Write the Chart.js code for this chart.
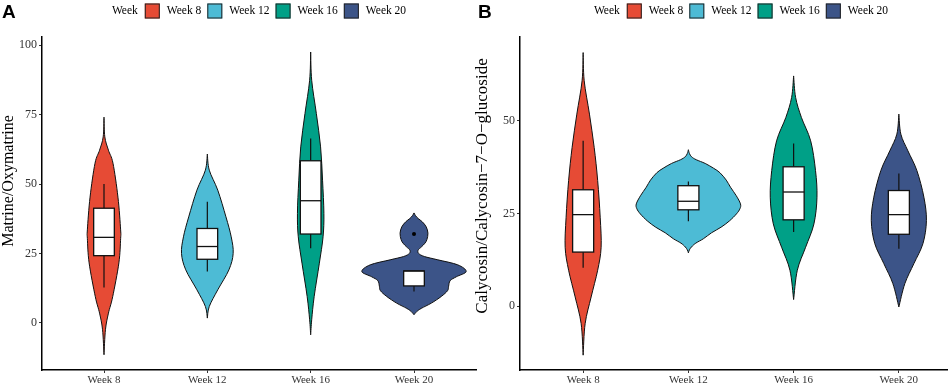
<!DOCTYPE html>
<html>
<head>
<meta charset="utf-8">
<script src="https://cdn.jsdelivr.net/npm/chart.js@4.4.1/dist/chart.umd.min.js"></script>
<style>
  html, body { margin: 0; padding: 0; background: #fff; }
  #wrap { position: relative; width: 948px; height: 386px; overflow: hidden; }
  #boxA { position: absolute; left: 0; top: 0; width: 480px; height: 386px; }
  #boxB { position: absolute; left: 474px; top: 0; width: 474px; height: 386px; overflow: hidden; }
</style>
</head>
<body>
<div id="wrap">
  <div id="boxA"><canvas id="chartA" width="480" height="386"></canvas></div>
  <div id="boxB"><canvas id="chartB" width="490" height="386"></canvas></div>
</div>
<script>
const weeks = ['Week 8', 'Week 12', 'Week 16', 'Week 20'];
const weekColors = ['#E64B35', '#4DBBD5', '#00A087', '#3C5488'];

// ---- panel A: Matrine/Oxymatrine ----
const yTicksA = [0, 25, 50, 75, 100];
// violin outlines: values and half widths (in category units)
const aW8Vals  = [74.1, 67, 62.2, 57.5, 45.3, 33.5, 30.4, 21.6, 9.4, 3.5, -2.5, -11.5];
const aW8Half  = [0, 0.008, 0.043, 0.087, 0.135, 0.161, 0.161, 0.144, 0.084, 0.043, 0.014, 0];
const aW12Vals = [60.8, 55.0, 47.8, 38.2, 31.0, 25.0, 19.1, 11.9, 5.9, 1.7];
const aW12Half = [0, 0.019, 0.101, 0.18, 0.231, 0.25, 0.209, 0.101, 0.019, 0];
const aW16Vals = [97.6, 87.4, 75.4, 63.4, 51.4, 39.4, 31.0, 21.5, 9.5, 1.1, -4.3];
const aW16Half = [0, 0.01, 0.055, 0.096, 0.115, 0.128, 0.12, 0.084, 0.034, 0.01, 0];
const aW20Vals = [39.6, 38.6, 37.6, 36.4, 34.6, 32.3, 30.0, 28.7, 27.3, 26.2, 25.0, 23.9, 22.7, 20.9, 18.5, 16.6, 15.2, 13.2, 11.6, 9.5, 7.1, 5.2, 4.0, 2.9];
const aW20Half = [0, 0.015, 0.04, 0.08, 0.118, 0.135, 0.125, 0.106, 0.07, 0.04, 0.045, 0.1, 0.231, 0.423, 0.505, 0.41, 0.35, 0.335, 0.325, 0.264, 0.168, 0.07, 0.025, 0];
// box stats
const aLo  = [12.7, 18.5, 26.9, 11.3];
const aQ1  = [24.2, 22.9, 32.0, 13.3];
const aMed = [30.8, 27.5, 44.0, 18.7];
const aQ3  = [41.3, 34.0, 58.4, 18.7];
const aHi  = [50.0, 43.6, 66.4, 18.7];
const aOutX = [3];
const aOutY = [32.0];

// ---- panel B: Calycosin/Calycosin-7-O-glucoside ----
const yTicksB = [0, 25, 50];
const bW8Vals  = [68.4, 60.8, 51.8, 42.8, 33.9, 24.0, 15.9, 9.7, 2.5, -4.7, -13.2];
const bW8Half  = [0, 0.01, 0.06, 0.105, 0.138, 0.162, 0.171, 0.138, 0.076, 0.019, 0];
const bW12Vals = [42.2, 41.2, 40.3, 39.5, 38.5, 37.2, 36.0, 34.0, 32.1, 29.8, 27.6, 26.3, 24.9, 23.0, 21.3, 19.8, 18.2, 17.0, 16.0, 15.2, 14.4];
const bW12Half = [0, 0.01, 0.03, 0.075, 0.16, 0.24, 0.3, 0.36, 0.4, 0.455, 0.495, 0.49, 0.457, 0.39, 0.31, 0.22, 0.143, 0.07, 0.03, 0.01, 0];
const bW16Vals = [62.1, 56.3, 50.9, 44.6, 36.6, 29.4, 22.2, 15.9, 9.7, 1.8];
const bW16Half = [0, 0.019, 0.074, 0.162, 0.208, 0.222, 0.193, 0.114, 0.035, 0];
const bW20Vals = [51.8, 46.4, 41.9, 36.6, 29.4, 23.1, 16.9, 11.5, 6.1, -0.2];
const bW20Half = [0, 0.019, 0.086, 0.171, 0.238, 0.262, 0.229, 0.143, 0.057, 0];
const bLo  = [10.4, 22.9, 20.0, 15.5];
const bQ1  = [14.6, 26.0, 23.3, 19.4];
const bMed = [24.7, 28.3, 30.8, 24.7];
const bQ3  = [31.4, 32.5, 37.6, 31.2];
const bHi  = [44.6, 33.6, 43.9, 35.8];
const bOutX = [];
const bOutY = [];

const serif = 'Liberation Serif';

// catmull-rom through points, as bezier segments
function curveThrough(ctx, pts) {
  for (let k = 0; k < pts.length - 1; k++) {
    const p0 = pts[Math.max(k - 1, 0)], p1 = pts[k], p2 = pts[k + 1];
    const p3 = pts[Math.min(k + 2, pts.length - 1)];
    ctx.bezierCurveTo(
      p1[0] + (p2[0] - p0[0]) / 6, p1[1] + (p2[1] - p0[1]) / 6,
      p2[0] - (p3[0] - p1[0]) / 6, p2[1] - (p3[1] - p1[1]) / 6,
      p2[0], p2[1]);
  }
}

function makeViolinPlugin(violins, st) {
  return {
    id: 'violins',
    beforeDatasetsDraw(chart) {
      const x = chart.scales.x, y = chart.scales.y, ctx = chart.ctx;
      const unit = x.getPixelForValue(1) - x.getPixelForValue(0);
      ctx.save();
      violins.forEach((v, i) => {
        const cx = x.getPixelForValue(i);
        const right = v.vals.map((val, k) => [cx + v.half[k] * unit, y.getPixelForValue(val)]);
        const left = right.map(p => [2 * cx - p[0], p[1]]).reverse();
        ctx.beginPath();
        ctx.moveTo(right[0][0], right[0][1]);
        curveThrough(ctx, right);
        curveThrough(ctx, left);
        ctx.closePath();
        ctx.fillStyle = weekColors[i];
        ctx.fill();
        ctx.lineWidth = 1;
        ctx.strokeStyle = '#111';
        ctx.stroke();

        // whiskers
        const yHi = y.getPixelForValue(st.hi[i]), yQ3 = y.getPixelForValue(st.q3[i]);
        const yQ1 = y.getPixelForValue(st.q1[i]), yLo = y.getPixelForValue(st.lo[i]);
        const yMed = y.getPixelForValue(st.med[i]);
        ctx.beginPath();
        ctx.moveTo(cx, yHi); ctx.lineTo(cx, yQ3);
        ctx.moveTo(cx, yQ1); ctx.lineTo(cx, yLo);
        ctx.lineWidth = 1.2;
        ctx.stroke();
        // box
        const bw = 0.1 * unit;
        ctx.fillStyle = '#fff';
        ctx.fillRect(cx - bw, yQ3, 2 * bw, yQ1 - yQ3);
        ctx.lineWidth = 1.3;
        ctx.strokeRect(cx - bw, yQ3, 2 * bw, yQ1 - yQ3);
        ctx.beginPath();
        ctx.moveTo(cx - bw, yMed); ctx.lineTo(cx + bw, yMed);
        ctx.stroke();
      });
      ctx.restore();
    }
  };
}

function makeLegendPlugin(letter, letterX, yTitle, titleSize, titleX, titleY) {
  return {
    id: 'weekLegend',
    afterDraw(chart) {
      const ctx = chart.ctx, ca = chart.chartArea;
      ctx.save();
      ctx.font = '11.5px "' + serif + '"';
      ctx.textBaseline = 'middle';
      const cy = 11;
      const title = 'Week';
      let total = ctx.measureText(title).width + 7;
      weeks.forEach((w, i) => {
        total += 15 + 7 + ctx.measureText(w).width + (i < weeks.length - 1 ? 6 : 0);
      });
      let x = (ca.left + ca.right) / 2 - total / 2;
      ctx.fillStyle = '#000';
      ctx.fillText(title, x, cy);
      x += ctx.measureText(title).width + 7;
      weeks.forEach((w, i) => {
        ctx.fillStyle = weekColors[i];
        ctx.fillRect(x, cy - 7.5, 15, 15);
        ctx.strokeStyle = '#222';
        ctx.lineWidth = 1;
        ctx.strokeRect(x + 0.5, cy - 7, 14, 14);
        x += 15 + 7;
        ctx.fillStyle = '#000';
        ctx.fillText(w, x, cy);
        x += ctx.measureText(w).width + 6;
      });
      // panel letter
      ctx.font = 'bold 19px "Liberation Sans"';
      ctx.textBaseline = 'alphabetic';
      ctx.fillText(letter, letterX, 18);
      // y axis title
      ctx.translate(titleX, titleY);
      ctx.rotate(-Math.PI / 2);
      ctx.font = titleSize + 'px "' + serif + '"';
      ctx.textAlign = 'center';
      ctx.textBaseline = 'middle';
      ctx.fillText(yTitle, 0, 0);
      ctx.restore();
    }
  };
}

function makeOptions(yMin, yMax, yTicks, yWidth, padRight) {
  const axisGrid = { display: true, drawOnChartArea: false, drawTicks: true, tickLength: 3, color: '#333' };
  const axisBorder = { display: true, color: '#000', width: 1.5 };
  return {
    responsive: false,
    animation: false,
    layout: { padding: { top: 37, right: padRight, left: 0, bottom: 0 } },
    plugins: { legend: { display: false }, tooltip: { enabled: false } },
    scales: {
      x: {
        type: 'linear', min: -0.6, max: 3.6,
        afterBuildTicks: s => { s.ticks = weeks.map((w, i) => ({ value: i })); },
        afterFit: s => { s.height = 16; },
        ticks: {
          callback: v => weeks[v], autoSkip: false, maxRotation: 0,
          font: { family: serif, size: 11 }, color: '#333', padding: 1
        },
        grid: axisGrid,
        border: axisBorder
      },
      y: {
        min: yMin, max: yMax,
        afterBuildTicks: s => { s.ticks = yTicks.map(v => ({ value: v })); },
        afterFit: s => { s.width = yWidth; },
        ticks: { font: { family: serif, size: 12 }, color: '#333', padding: 2 },
        grid: axisGrid,
        border: axisBorder
      }
    }
  };
}

function outlierData(xs, ys) {
  return xs.map((v, i) => ({ x: v, y: ys[i] }));
}

const violinsA = [
  { vals: aW8Vals, half: aW8Half }, { vals: aW12Vals, half: aW12Half },
  { vals: aW16Vals, half: aW16Half }, { vals: aW20Vals, half: aW20Half }
];
const violinsB = [
  { vals: bW8Vals, half: bW8Half }, { vals: bW12Vals, half: bW12Half },
  { vals: bW16Vals, half: bW16Half }, { vals: bW20Vals, half: bW20Half }
];

new Chart(document.getElementById('chartA').getContext('2d'), {
  type: 'scatter',
  data: {
    datasets: [{
      label: 'Outliers',
      data: outlierData(aOutX, aOutY),
      pointRadius: 2, backgroundColor: '#000', borderWidth: 0
    }]
  },
  options: makeOptions(-17, 103, yTicksA, 42, 3),
  plugins: [
    makeViolinPlugin(violinsA, { lo: aLo, q1: aQ1, med: aMed, q3: aQ3, hi: aHi }),
    makeLegendPlugin('A', 2, 'Matrine/Oxymatrine', 16, 9, 181)
  ]
});

new Chart(document.getElementById('chartB').getContext('2d'), {
  type: 'scatter',
  data: {
    datasets: [{
      label: 'Outliers',
      data: outlierData(bOutX, bOutY),
      pointRadius: 2, backgroundColor: '#000', borderWidth: 0
    }]
  },
  options: makeOptions(-17.2, 72.6, yTicksB, 46, 2),
  plugins: [
    makeViolinPlugin(violinsB, { lo: bLo, q1: bQ1, med: bMed, q3: bQ3, hi: bHi }),
    makeLegendPlugin('B', 4, 'Calycosin/Calycosin\u22127\u2212O\u2212glucoside', 17, 9, 186)
  ]
});
</script>
</body>
</html>
